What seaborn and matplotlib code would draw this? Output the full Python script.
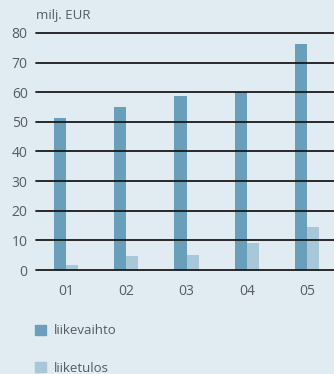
import matplotlib
matplotlib.use("Agg")
import matplotlib.pyplot as plt
import seaborn as sns
import pandas as pd

years = ["01", "02", "03", "04", "05"]
liikevaihto = [51.3, 55.0, 58.8, 60.0, 76.3]
liiketulos = [1.7, 4.7, 5.1, 9.1, 14.5]
series_names = ["liikevaihto", "liiketulos"]
yticks = [0, 10, 20, 30, 40, 50, 60, 70, 80]

bg = "#e1ebf2"
dark = "#6a9fbb"
light = "#a8c7d8"
text_col = "#555b60"

df = pd.DataFrame({
    "vuosi": years * 2,
    "arvo": liikevaihto + liiketulos,
    "sarja": [series_names[0]] * len(years) + [series_names[1]] * len(years),
})

sns.set_theme(style="white")
plt.rcParams["font.family"] = ["Open Sans", "DejaVu Sans"]

fig = plt.figure(figsize=(3.34, 3.74), dpi=100, facecolor=bg)
ax = fig.add_axes([36 / 334, 104 / 374, 1 - 36 / 334, 243 / 374])
ax.set_facecolor(bg)

sns.barplot(data=df, x="vuosi", y="arvo", hue="sarja", order=years,
            hue_order=series_names, palette=[dark, light], width=0.4,
            saturation=1, ax=ax, legend=False, linewidth=0)

ax.set_ylim(0, 82)
ax.set_xlim(-0.5, 4.45)
ax.set_yticks(yticks)
for v in yticks:
    ax.axhline(v, color="#1a1a1a", lw=1.3, zorder=5, clip_on=False)

for s in ax.spines.values():
    s.set_visible(False)
ax.tick_params(axis="both", length=0, labelsize=10, colors=text_col)
ax.tick_params(axis="y", pad=6)
ax.tick_params(axis="x", pad=10)
ax.set_xlabel("")
ax.set_ylabel("")

fig.text(36 / 334, 1 - 15 / 374, "milj. EUR", fontsize=9.5, color=text_col,
         va="center", ha="left")

handles = [plt.Rectangle((0, 0), 1, 1, color=c) for c in (dark, light)]
fig.legend(handles, series_names, loc="upper left",
           bbox_to_anchor=(30 / 334, 1 - 319 / 374), frameon=False,
           fontsize=9.5, labelcolor=text_col, handlelength=0.8,
           handleheight=0.8, handletextpad=0.6, labelspacing=1.85,
           borderaxespad=0)

fig.savefig("out.png", dpi=100, facecolor=bg)
